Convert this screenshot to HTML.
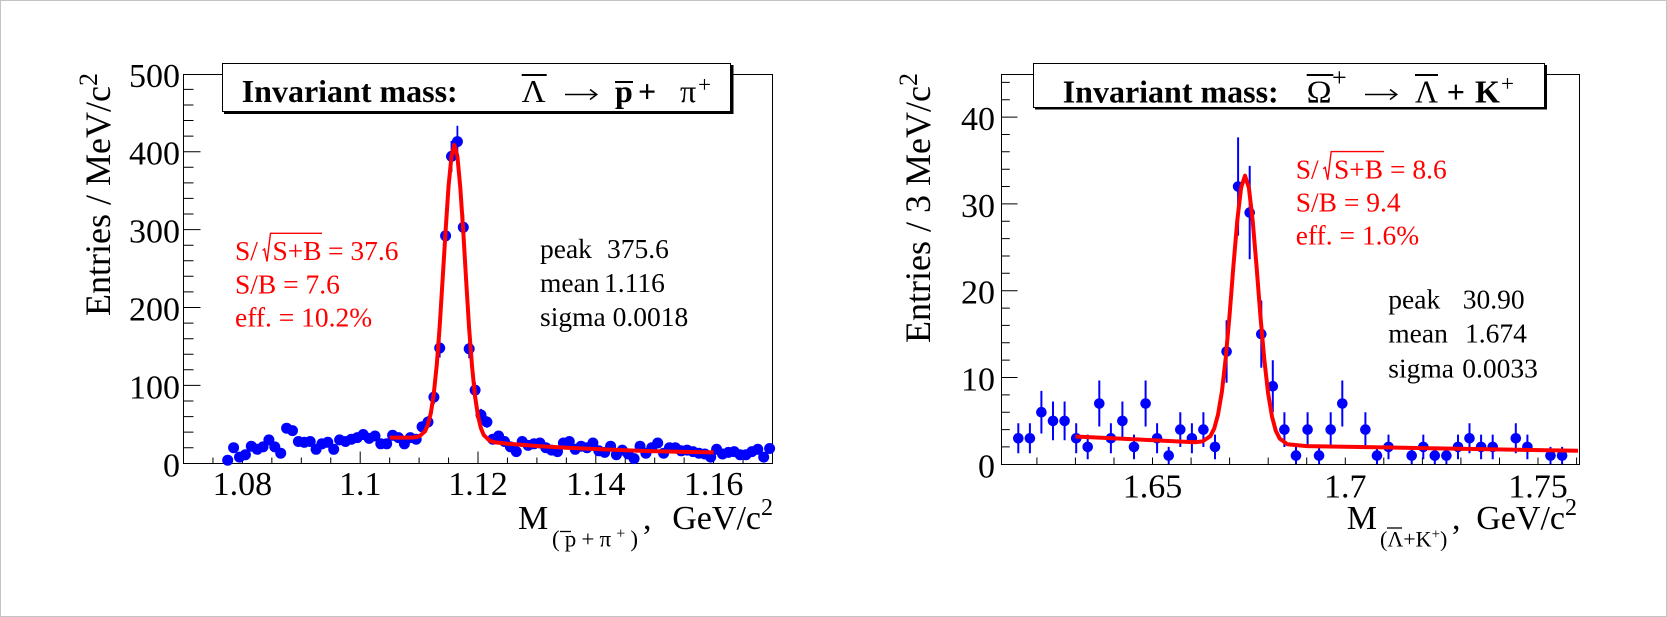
<!DOCTYPE html>
<html><head><meta charset="utf-8"><style>
html,body{margin:0;padding:0;background:#fff;}
svg{display:block;}
text{font-family:"Liberation Serif","DejaVu Serif",serif;}
</style></head><body>
<svg width="1667" height="617" viewBox="0 0 1667 617" xmlns="http://www.w3.org/2000/svg">
<rect x="0" y="0" width="1667" height="617" fill="#fff"/>
<rect x="0.5" y="0.5" width="1666" height="616" fill="none" stroke="#c4c4c4" stroke-width="1"/>

<!-- ================= LEFT PANEL ================= -->
<g stroke="#000" stroke-width="1" fill="none">
<rect x="183.5" y="74.5" width="589" height="389"/>
<path d="M183.5,447.7h10M183.5,432.1h10M183.5,416.6h10M183.5,401h10M183.5,385.4h17M183.5,369.8h10M183.5,354.2h10M183.5,338.7h10M183.5,323.1h10M183.5,307.5h17M183.5,291.9h10M183.5,276.3h10M183.5,260.8h10M183.5,245.2h10M183.5,229.6h17M183.5,214h10M183.5,198.4h10M183.5,182.9h10M183.5,167.3h10M183.5,151.7h17M183.5,136.1h10M183.5,120.5h10M183.5,105h10M183.5,89.4h10"/>
<path d="M212.95,463.5v-6M242.4,463.5v-12M271.85,463.5v-6M301.3,463.5v-6M330.75,463.5v-6M360.2,463.5v-12M389.65,463.5v-6M419.1,463.5v-6M448.55,463.5v-6M478,463.5v-12M507.45,463.5v-6M536.9,463.5v-6M566.35,463.5v-6M595.8,463.5v-12M625.25,463.5v-6M654.7,463.5v-6M684.15,463.5v-6M713.6,463.5v-12M743.05,463.5v-6"/>
</g>
<g font-size="34" fill="#000" text-anchor="end">
<text x="180" y="476.3">0</text>
<text x="180" y="398.4">100</text>
<text x="180" y="320.5">200</text>
<text x="180" y="242.6">300</text>
<text x="180" y="164.7">400</text>
<text x="180" y="86.8">500</text>
</g>
<g font-size="34" fill="#000" text-anchor="middle">
<text x="242.4" y="495">1.08</text>
<text x="360.2" y="495">1.1</text>
<text x="478" y="495">1.12</text>
<text x="595.8" y="495">1.14</text>
<text x="713.6" y="495">1.16</text>
</g>
<text transform="translate(110,73) rotate(-90)" text-anchor="end" font-size="36" fill="#000">Entries / MeV/c<tspan dy="-13" font-size="26">2</tspan></text>
<!-- x title -->
<text x="518" y="529" font-size="34" fill="#000">M</text>
<text x="552" y="546.5" font-size="23" fill="#000" textLength="86" lengthAdjust="spacing">(p+π<tspan dy="-8" font-size="16">+</tspan><tspan dy="8">)</tspan></text>
<line x1="560" y1="531.5" x2="571" y2="531.5" stroke="#000" stroke-width="1.3"/>
<text x="643" y="529" font-size="34" fill="#000">,</text>
<text x="773" y="529" font-size="34" fill="#000" text-anchor="end">GeV/c<tspan dy="-14" font-size="24">2</tspan></text>

<g stroke="#0000ff" stroke-width="1.8">
<path d="M428,416.3V427.7M433.9,389.9V404.3M439.7,338.5V357.5M445.6,222.5V249.1M451.5,140.9V171.9M457.4,125.8V157.4M463.3,213.7V240.9M469.2,339.4V358.2M475.1,382.5V397.7M481,408.9V421.1M486.9,416.3V427.7"/>
</g>
<g fill="#0000ff">
<circle cx="227.7" cy="460.2" r="5.5"/><circle cx="233.6" cy="447.7" r="5.5"/><circle cx="239.5" cy="457.1" r="5.5"/><circle cx="245.4" cy="454.7" r="5.5"/><circle cx="251.3" cy="446.2" r="5.5"/><circle cx="257.2" cy="449.3" r="5.5"/><circle cx="263" cy="446.9" r="5.5"/><circle cx="268.9" cy="439.9" r="5.5"/><circle cx="274.8" cy="446.9" r="5.5"/><circle cx="280.7" cy="453.2" r="5.5"/>
<circle cx="286.6" cy="428.2" r="5.5"/><circle cx="292.5" cy="430.6" r="5.5"/><circle cx="298.4" cy="441.5" r="5.5"/><circle cx="304.3" cy="442.3" r="5.5"/><circle cx="310.2" cy="441.5" r="5.5"/><circle cx="316.1" cy="449.3" r="5.5"/><circle cx="321.9" cy="443.8" r="5.5"/><circle cx="327.8" cy="442.3" r="5.5"/><circle cx="333.7" cy="449.3" r="5.5"/><circle cx="339.6" cy="439.9" r="5.5"/>
<circle cx="345.5" cy="441.5" r="5.5"/><circle cx="351.4" cy="439.2" r="5.5"/><circle cx="357.3" cy="437.6" r="5.5"/><circle cx="363.2" cy="434.5" r="5.5"/><circle cx="369.1" cy="438.4" r="5.5"/><circle cx="375" cy="436" r="5.5"/><circle cx="380.8" cy="443.8" r="5.5"/><circle cx="386.7" cy="443.8" r="5.5"/><circle cx="392.6" cy="435.3" r="5.5"/><circle cx="398.5" cy="437.6" r="5.5"/>
<circle cx="404.4" cy="443.8" r="5.5"/><circle cx="410.3" cy="437.6" r="5.5"/><circle cx="416.2" cy="439.2" r="5.5"/><circle cx="422.1" cy="426.7" r="5.5"/><circle cx="428" cy="422" r="5.5"/><circle cx="433.9" cy="397.1" r="5.5"/><circle cx="439.7" cy="348" r="5.5"/><circle cx="445.6" cy="235.8" r="5.5"/><circle cx="451.5" cy="156.4" r="5.5"/><circle cx="457.4" cy="141.6" r="5.5"/>
<circle cx="463.3" cy="227.3" r="5.5"/><circle cx="469.2" cy="348.8" r="5.5"/><circle cx="475.1" cy="390.1" r="5.5"/><circle cx="481" cy="415" r="5.5"/><circle cx="486.9" cy="422" r="5.5"/><circle cx="492.8" cy="439.2" r="5.5"/><circle cx="498.6" cy="436" r="5.5"/><circle cx="504.5" cy="441.5" r="5.5"/><circle cx="510.4" cy="446.9" r="5.5"/><circle cx="516.3" cy="451.6" r="5.5"/>
<circle cx="522.2" cy="441.5" r="5.5"/><circle cx="528.1" cy="445.4" r="5.5"/><circle cx="534" cy="443.8" r="5.5"/><circle cx="539.9" cy="443" r="5.5"/><circle cx="545.8" cy="447.7" r="5.5"/><circle cx="551.6" cy="450.1" r="5.5"/><circle cx="557.5" cy="451.6" r="5.5"/><circle cx="563.4" cy="443" r="5.5"/><circle cx="569.3" cy="441.5" r="5.5"/><circle cx="575.2" cy="449.3" r="5.5"/>
<circle cx="581.1" cy="446.2" r="5.5"/><circle cx="587" cy="447.7" r="5.5"/><circle cx="592.9" cy="443" r="5.5"/><circle cx="598.8" cy="450.8" r="5.5"/><circle cx="604.7" cy="452.4" r="5.5"/><circle cx="610.6" cy="446.2" r="5.5"/><circle cx="616.4" cy="454.7" r="5.5"/><circle cx="622.3" cy="450.1" r="5.5"/><circle cx="628.2" cy="454" r="5.5"/><circle cx="634.1" cy="458.6" r="5.5"/>
<circle cx="640" cy="446.2" r="5.5"/><circle cx="645.9" cy="453.2" r="5.5"/><circle cx="651.8" cy="447.7" r="5.5"/><circle cx="657.7" cy="443" r="5.5"/><circle cx="663.6" cy="453.2" r="5.5"/><circle cx="669.5" cy="447.7" r="5.5"/><circle cx="675.3" cy="447.7" r="5.5"/><circle cx="681.2" cy="450.8" r="5.5"/><circle cx="687.1" cy="450.1" r="5.5"/><circle cx="693" cy="451.6" r="5.5"/>
<circle cx="698.9" cy="453.2" r="5.5"/><circle cx="704.8" cy="454" r="5.5"/><circle cx="710.7" cy="457.1" r="5.5"/><circle cx="716.6" cy="449.3" r="5.5"/><circle cx="722.5" cy="454" r="5.5"/><circle cx="728.4" cy="452.4" r="5.5"/><circle cx="734.2" cy="451.6" r="5.5"/><circle cx="740.1" cy="454.7" r="5.5"/><circle cx="746" cy="454.7" r="5.5"/><circle cx="751.9" cy="451.6" r="5.5"/>
<circle cx="757.8" cy="449.3" r="5.5"/><circle cx="763.7" cy="457.1" r="5.5"/><circle cx="769.6" cy="448.5" r="5.5"/>
</g>
<polyline fill="none" stroke="#ff0000" stroke-width="4" stroke-linejoin="round" points="389.65,437.6 407.3,437.6 413.2,437.5 419.1,436.5 425,431.4 427.9,424.7 430.9,412.8 433.8,393.4 436.8,364.6 439.7,326 442.6,279.8 445.6,230.8 448.5,186.8 451.5,156.1 454.4,145 457.4,156.4 460.3,187.6 463.3,232 466.2,281.3 469.1,328 472.1,366.9 475,396.1 478,415.9 480.9,428.1 483.8,435.1 489.7,440.8 495.6,442.4 507.4,443.7 536.9,446 566.3,447.7 595.8,449 625.2,450.3 654.7,451.2 684.1,451.9 713.6,452.4"/>

<!-- title box left -->
<rect x="224" y="65" width="509.5" height="49" fill="#000"/>
<rect x="222.5" y="63.5" width="508" height="48" fill="#fff" stroke="#000" stroke-width="1"/>
<text x="241.7" y="102" font-size="32" font-weight="bold" fill="#000">Invariant mass:</text>
<text x="521.7" y="102" font-size="32" fill="#000" textLength="24" lengthAdjust="spacingAndGlyphs">Λ</text>
<line x1="521.7" y1="75" x2="546.7" y2="75" stroke="#000" stroke-width="2"/>
<g stroke="#000" stroke-width="1.6" fill="none">
<line x1="565" y1="94.5" x2="596.5" y2="94.5"/>
<polyline points="590,89.5 596.7,94.5 590,99.5"/>
</g>
<text x="615" y="102" font-size="32" font-weight="bold" fill="#000">p</text>
<line x1="615" y1="82" x2="633" y2="82" stroke="#000" stroke-width="2"/>
<text x="638" y="102" font-size="32" font-weight="bold" fill="#000">+</text>
<text x="680" y="102" font-size="32" fill="#000">π</text>
<text x="698" y="92" font-size="23" fill="#000">+</text>

<g font-size="27.5" fill="#ff0000">
<text x="235" y="260">S/</text>
<text x="272.5" y="260">S+B</text>
<text x="328" y="260">= 37.6</text>
<text x="235" y="293.3">S/B = 7.6</text>
<text x="235" y="326.7">eff. = 10.2%</text>
</g>
<polyline fill="none" stroke="#ff0000" stroke-width="1.4" points="262.5,250.5 264.5,249 267,261.5 270.5,233.3 322,233.3"/>
<g font-size="27.5" fill="#000">
<text x="540" y="258">peak</text><text x="607" y="258">375.6</text>
<text x="540" y="292">mean</text><text x="604" y="292">1.116</text>
<text x="540" y="326">sigma 0.0018</text>
</g>

<!-- ================= RIGHT PANEL ================= -->
<g stroke="#000" stroke-width="1" fill="none">
<rect x="1001.5" y="74.5" width="578" height="390"/>
<path d="M1001.5,446.9h8.3M1001.5,429.6h8.3M1001.5,412.2h8.3M1001.5,394.9h8.3M1001.5,377.5h16M1001.5,360.1h8.3M1001.5,342.8h8.3M1001.5,325.4h8.3M1001.5,308.1h8.3M1001.5,290.7h16M1001.5,273.3h8.3M1001.5,256h8.3M1001.5,238.6h8.3M1001.5,221.3h8.3M1001.5,203.9h16M1001.5,186.5h8.3M1001.5,169.2h8.3M1001.5,151.8h8.3M1001.5,134.5h8.3M1001.5,117.1h16M1001.5,99.7h8.3M1001.5,82.4h8.3"/>
<path d="M1036.9,464.5v-7M1075.4,464.5v-7M1114,464.5v-7M1152.5,464.5v-7M1191.1,464.5v-7M1229.6,464.5v-7M1268.2,464.5v-7M1306.7,464.5v-7M1345.3,464.5v-7M1383.8,464.5v-7M1422.4,464.5v-7M1460.9,464.5v-7M1499.5,464.5v-7M1538,464.5v-7M1576.6,464.5v-7"/>
</g>
<g font-size="34" fill="#000" text-anchor="end">
<text x="995" y="477.3">0</text>
<text x="995" y="390.5">10</text>
<text x="995" y="303.7">20</text>
<text x="995" y="216.9">30</text>
<text x="995" y="130.1">40</text>
</g>
<g font-size="34" fill="#000" text-anchor="middle">
<text x="1152.5" y="497.3">1.65</text>
<text x="1345.3" y="497.3">1.7</text>
<text x="1538" y="497.3">1.75</text>
</g>
<text transform="translate(930,73) rotate(-90)" text-anchor="end" font-size="36" fill="#000">Entries / 3 MeV/c<tspan dy="-13" font-size="26">2</tspan></text>
<text x="1346.7" y="529" font-size="34" fill="#000">M</text>
<text x="1380" y="546.5" font-size="22" fill="#000">(Λ+K<tspan dy="-8" font-size="15">+</tspan><tspan dy="8">)</tspan></text>
<line x1="1387" y1="528" x2="1402" y2="528" stroke="#000" stroke-width="1.3"/>
<text x="1452" y="529" font-size="34" fill="#000">,</text>
<text x="1577" y="529" font-size="34" fill="#000" text-anchor="end">GeV/c<tspan dy="-14" font-size="24">2</tspan></text>

<g stroke="#0000ff" stroke-width="2">
<path d="M1018.3,423.3V453.3M1029.9,423.3V453.3M1041.4,390.9V433.5M1053,401.5V440.3M1064.6,401.5V440.3M1076.2,423.3V453.3M1087.7,434.6V459.2M1099.3,380.5V426.5M1110.9,423.3V453.3M1122.4,401.5V440.3M1134,434.6V459.2M1145.6,380.5V426.5M1157.1,423.3V453.3M1168.7,446.9V464.3M1180.3,412.2V447M1191.9,423.3V453.3M1203.4,412.2V447M1215,434.6V459.2M1226.6,320.2V382.8M1238.1,137.4V235.6M1249.7,165.9V259.3M1261.3,300.5V367.7M1272.8,360.2V412.2M1284.4,412.2V447M1296,446.9V464.3M1307.6,412.2V447M1319.1,446.9V464.3M1330.7,412.2V447M1342.3,380.5V426.5M1365.4,412.2V447M1377,446.9V464.3M1388.5,434.6V459.2M1411.7,446.9V464.3M1423.3,434.6V459.2M1434.8,446.9V464.3M1446.4,446.9V464.3M1458,434.6V459.2M1469.5,423.3V453.3M1481.1,434.6V459.2M1492.7,434.6V459.2M1515.8,423.3V453.3M1527.4,434.6V459.2M1550.5,446.9V464.3M1562.1,446.9V464.3"/>
</g>
<g fill="#0000ff">
<circle cx="1018.3" cy="438.3" r="5.3"/><circle cx="1029.9" cy="438.3" r="5.3"/><circle cx="1041.4" cy="412.2" r="5.3"/><circle cx="1053" cy="420.9" r="5.3"/><circle cx="1064.6" cy="420.9" r="5.3"/><circle cx="1076.2" cy="438.3" r="5.3"/><circle cx="1087.7" cy="446.9" r="5.3"/><circle cx="1099.3" cy="403.5" r="5.3"/><circle cx="1110.9" cy="438.3" r="5.3"/><circle cx="1122.4" cy="420.9" r="5.3"/>
<circle cx="1134" cy="446.9" r="5.3"/><circle cx="1145.6" cy="403.5" r="5.3"/><circle cx="1157.1" cy="438.3" r="5.3"/><circle cx="1168.7" cy="455.6" r="5.3"/><circle cx="1180.3" cy="429.6" r="5.3"/><circle cx="1191.9" cy="438.3" r="5.3"/><circle cx="1203.4" cy="429.6" r="5.3"/><circle cx="1215" cy="446.9" r="5.3"/><circle cx="1226.6" cy="351.5" r="5.3"/><circle cx="1238.1" cy="186.5" r="5.3"/>
<circle cx="1249.7" cy="212.6" r="5.3"/><circle cx="1261.3" cy="334.1" r="5.3"/><circle cx="1272.8" cy="386.2" r="5.3"/><circle cx="1284.4" cy="429.6" r="5.3"/><circle cx="1296" cy="455.6" r="5.3"/><circle cx="1307.6" cy="429.6" r="5.3"/><circle cx="1319.1" cy="455.6" r="5.3"/><circle cx="1330.7" cy="429.6" r="5.3"/><circle cx="1342.3" cy="403.5" r="5.3"/><circle cx="1365.4" cy="429.6" r="5.3"/>
<circle cx="1377" cy="455.6" r="5.3"/><circle cx="1388.5" cy="446.9" r="5.3"/><circle cx="1411.7" cy="455.6" r="5.3"/><circle cx="1423.3" cy="446.9" r="5.3"/><circle cx="1434.8" cy="455.6" r="5.3"/><circle cx="1446.4" cy="455.6" r="5.3"/><circle cx="1458" cy="446.9" r="5.3"/><circle cx="1469.5" cy="438.3" r="5.3"/><circle cx="1481.1" cy="446.9" r="5.3"/><circle cx="1492.7" cy="446.9" r="5.3"/>
<circle cx="1515.8" cy="438.3" r="5.3"/><circle cx="1527.4" cy="446.9" r="5.3"/><circle cx="1550.5" cy="455.6" r="5.3"/><circle cx="1562.1" cy="455.6" r="5.3"/>
</g>
<polyline fill="none" stroke="#ff0000" stroke-width="4" stroke-linejoin="round" points="1075.4,436.5 1133.2,439.3 1194.9,442.2 1202.6,441.4 1210.3,436.2 1214.2,428.6 1218,414.7 1221.9,391.7 1225.7,358.1 1229.6,314.7 1233.4,266.1 1237.3,220.4 1241.1,187.6 1245,175.7 1248.9,187.9 1252.7,220.9 1256.6,266.9 1260.4,315.8 1264.3,359.5 1268.1,393.3 1272,416.6 1275.8,430.8 1279.7,438.6 1287.4,444.3 1306.7,446.1 1422.4,448.1 1578,450.8"/>

<!-- title box right -->
<rect x="1035" y="65" width="512" height="44.5" fill="#000"/>
<rect x="1033.5" y="63.5" width="511" height="44" fill="#fff" stroke="#000" stroke-width="1"/>
<text x="1062.7" y="102.5" font-size="32" font-weight="bold" fill="#000">Invariant mass:</text>
<text x="1306.7" y="102.5" font-size="32" fill="#000" textLength="25" lengthAdjust="spacingAndGlyphs">Ω</text>
<line x1="1306.7" y1="75" x2="1333.3" y2="75" stroke="#000" stroke-width="2"/>
<text x="1332" y="86" font-size="26" fill="#000">+</text>
<g stroke="#000" stroke-width="1.6" fill="none">
<line x1="1365" y1="94.5" x2="1396.5" y2="94.5"/>
<polyline points="1390,89.5 1396.7,94.5 1390,99.5"/>
</g>
<text x="1415" y="102.5" font-size="32" fill="#000" textLength="23" lengthAdjust="spacingAndGlyphs">Λ</text>
<line x1="1415" y1="75" x2="1438" y2="75" stroke="#000" stroke-width="2"/>
<text x="1446.7" y="102.5" font-size="32" font-weight="bold" fill="#000">+</text>
<text x="1475" y="102.5" font-size="32" font-weight="bold" fill="#000">K</text>
<text x="1501" y="91" font-size="23" fill="#000">+</text>

<g font-size="27.5" fill="#ff0000">
<text x="1295.7" y="178.3">S/</text>
<text x="1334" y="178.3">S+B</text>
<text x="1390" y="178.3">= 8.6</text>
<text x="1295.7" y="211.7">S/B = 9.4</text>
<text x="1295.7" y="244.7">eff. = 1.6%</text>
</g>
<polyline fill="none" stroke="#ff0000" stroke-width="1.4" points="1323.2,168.8 1325.2,167.3 1327.7,179.8 1331.2,151.6 1384,151.6"/>
<g font-size="27.5" fill="#000">
<text x="1388.3" y="308.3">peak</text><text x="1462.7" y="308.3">30.90</text>
<text x="1388.3" y="342.7">mean</text><text x="1465" y="342.7">1.674</text>
<text x="1388.3" y="377.3">sigma</text><text x="1462.3" y="377.3">0.0033</text>
</g>
</svg>
</body></html>
